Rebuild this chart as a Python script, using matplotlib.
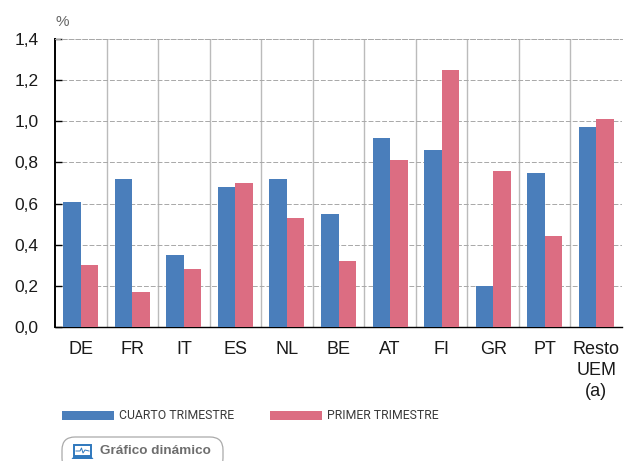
import matplotlib
matplotlib.use("Agg")
import matplotlib.pyplot as plt
import numpy as np
from matplotlib.patches import FancyBboxPatch, Rectangle, Polygon

paises = ["DE", "FR", "IT", "ES", "NL", "BE", "AT", "FI", "GR", "PT", "Resto\nUEM\n(a)"]
cuarto = [0.61, 0.72, 0.35, 0.68, 0.72, 0.55, 0.92, 0.86, 0.20, 0.75, 0.97]
primero = [0.30, 0.17, 0.28, 0.70, 0.53, 0.32, 0.81, 1.25, 0.76, 0.44, 1.01]
ticks = [0.0, 0.2, 0.4, 0.6, 0.8, 1.0, 1.2, 1.4]

azul = "#4a7ebb"
rosa = "#dc6d82"
W, H = 628, 461

plt.rcParams['font.family'] = ['Liberation Sans', 'DejaVu Sans']

fig = plt.figure(figsize=(W / 100, H / 100), dpi=100)
ax = fig.add_axes([55 / W, 1 - 327 / H, (622 - 55) / W, (327 - 39) / H])

x = np.arange(len(paises))
ax.bar(x - 0.17, cuarto, 0.34, color=azul, zorder=3)
ax.bar(x + 0.17, primero, 0.34, color=rosa, zorder=3)

ax.set_xlim(-0.5, len(paises) - 0.5)
ax.set_ylim(0, 1.4)
ax.set_yticks(ticks)
ax.set_yticklabels([f"{t:.1f}".replace(".", ",") for t in ticks], fontsize=12.5, color="#1a1a1a")
ax.set_xticks(x)
ax.set_xticklabels(paises, fontsize=13, color="#1a1a1a", linespacing=1.32)
ax.tick_params(axis='x', length=0, pad=10)
ax.tick_params(axis='y', length=5, width=1.0, direction='in', pad=12)

# rejilla: discontinua horizontal, gris continua entre paises
ax.grid(axis='y', color="#a8a8a8", linestyle=(0, (5, 2)), linewidth=0.7, zorder=1)
for v in x[:-1] + 0.5:
    ax.axvline(v, color="#bbbbbb", linewidth=1.0, zorder=1)

ax.spines['right'].set_visible(False)
ax.spines['top'].set_color("#a8a8a8")
ax.spines['top'].set_linewidth(0.7)
ax.spines['top'].set_linestyle((0, (5, 2)))
ax.spines['left'].set_linewidth(1.4)
ax.spines['bottom'].set_linewidth(1.0)

# capa en pixeles para leyenda y boton
capa = fig.add_axes([0, 0, 1, 1], zorder=5)
capa.set_xlim(0, W)
capa.set_ylim(H, 0)
capa.axis('off')

capa.text(55, 22, "%", fontsize=11, color="#666666", ha='left', va='center')

# leyenda
capa.add_patch(Rectangle((62, 411), 52, 9, color=azul, lw=0))
capa.add_patch(Rectangle((270, 411), 52, 9, color=rosa, lw=0))
capa.text(119, 415, "CUARTO TRIMESTRE", fontsize=8.8, color="#3a3a3a", va='center', family='Roboto')
capa.text(327, 415, "PRIMER TRIMESTRE", fontsize=8.8, color="#3a3a3a", va='center', family='Roboto')

# boton con icono
capa.add_patch(FancyBboxPatch((62, 437), 161, 34, boxstyle="round,pad=0,rounding_size=13",
                              facecolor="white", edgecolor="#aaaaaa", linewidth=0.9, clip_on=True))
capa.add_patch(Rectangle((74, 445), 17, 11, facecolor="white", edgecolor="#2f78bd", linewidth=1.4))
capa.add_patch(Polygon([(74, 456), (91, 456), (93.5, 459), (71.5, 459)], color="#2f78bd", lw=0))
capa.plot([76, 80, 81.5, 83, 85, 89], [451, 451, 448, 453, 450, 451], color="#2f78bd", lw=0.7)
capa.text(100, 451, "Gráfico dinámico", fontsize=9.7, fontweight='bold', color="#6d6d6d", va='center')

fig.savefig("out.png", dpi=100)
